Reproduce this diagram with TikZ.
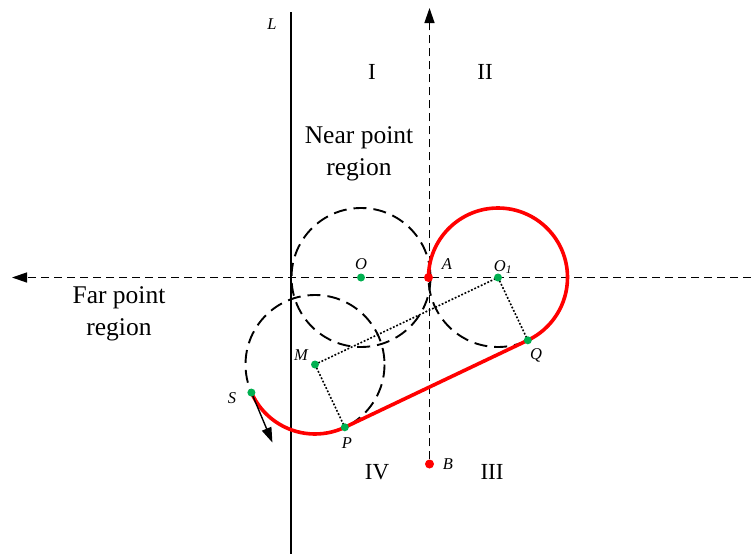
\documentclass[tikz,border=0pt]{standalone}
\usepackage{fontspec}
\setmainfont{Liberation Serif}
\usetikzlibrary{arrows.meta,calc}
\definecolor{ptgreen}{RGB}{0,176,80}
\begin{document}
\begin{tikzpicture}[x=1pt,y=-1pt,
  gdot/.style={circle,fill=ptgreen,inner sep=0pt,minimum size=8pt},
  rdot/.style={circle,fill=red,inner sep=0pt,minimum size=9pt},
  lab/.style={font=\fontsize{16.5}{16.5}\selectfont\itshape,inner sep=0pt},
  roman/.style={font=\fontsize{23}{23}\selectfont,inner sep=0pt},
  region/.style={font=\fontsize{25.5}{32}\selectfont,align=center,inner sep=0pt},
  axisline/.style={dash pattern=on 8pt off 5pt,line width=1.3pt},
  guide/.style={dash pattern=on 13pt off 7pt,line width=1.9pt},
  dotline/.style={dash pattern=on 1.8pt off 1.8pt,line width=1.6pt},
  redpath/.style={red,line width=3.6pt},
  tip/.style={-{Triangle[length=15pt,width=10pt]}}
]
\useasboundingbox (0,0) rectangle (751,554);

% coordinates
\coordinate (O) at (361,277.5);
\coordinate (O1c) at (498,277.5);
\coordinate (Mc) at (315,364.5);
\coordinate (Lt) at (291,12);
\coordinate (Lb) at (291,554);
\coordinate (Hr) at (751,277.5);
\coordinate (Hl) at (12,277.5);
\coordinate (Vt) at (429.5,8);

% axes and line L
\draw[line width=2.2pt] (Lt) -- (Lb);
\draw[axisline,tip] (Hr) -- (Hl);
\node[rdot] (B) at (429.5,464) {};
\draw[axisline,tip] (B.north) -- (Vt);

% dashed circles
\draw[guide] (O) circle[radius=69.5];
\draw[guide] (O1c) circle[radius=69.5];
\draw[guide] (Mc) circle[radius=69.5];

% tangent points
\coordinate (Pc) at ($(Mc)+(64.6:69.5)$);
\coordinate (Qc) at ($(O1c)+(64.6:69.5)$);
\coordinate (Sc) at ($(Mc)+(156.2:69.5)$);
\coordinate (Ac) at (428.5,277.5);

% dotted construction
\draw[dotline] (Mc) -- (O1c);
\draw[dotline] (Mc) -- (Pc);
\draw[dotline] (O1c) -- (Qc);

% red path
\draw[redpath] (Ac) arc[start angle=180,end angle=424.6,radius=69.5]
  -- (Pc) arc[start angle=64.6,end angle=156.2,radius=69.5];

% arrow at S
\coordinate (Send) at ($(Sc)+(21,50)$);
\draw[line width=1.4pt,tip] (Sc) -- (Send);

% dots
\node[gdot] (Odot) at (O) {};
\node[gdot] (O1) at (O1c) {};
\node[gdot] (M) at (Mc) {};
\node[gdot] (P) at (Pc) {};
\node[gdot] (Q) at (Qc) {};
\node[gdot] (S) at (Sc) {};
\node[rdot] (A) at (Ac) {};

% labels
\node[lab] (Llab) at (272,24) {L};
\node[lab] (Olab) at (361,264) {O};
\node[lab] (Alab) at (447,264) {A};
\node[lab] (O1lab) at (503,267) {O\textsubscript{1}};
\node[lab] (Mlab) at (301,355) {M};
\node[lab] (Qlab) at (536,355) {Q};
\node[lab] (Slab) at (232,398) {S};
\node[lab] (Plab) at (347,443) {P};
\node[lab] (Blab) at (448,464) {B};

\node[roman] (r1) at (372,72) {I};
\node[roman] (r2) at (485,72) {II};
\node[roman] (r4) at (377,472) {IV};
\node[roman] (r3) at (492,472) {III};

\node[region] (near) at (359,154) {Near point\\region};
\node[region] (far) at (119,314) {Far point\\region};
\end{tikzpicture}
\end{document}
